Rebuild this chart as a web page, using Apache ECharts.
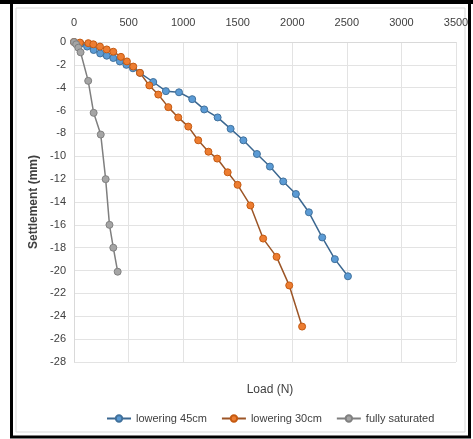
<!DOCTYPE html>
<html>
<head>
<meta charset="utf-8">
<script src="https://cdn.jsdelivr.net/npm/echarts@6/dist/echarts.min.js"></script>
<style>
  html, body { margin: 0; padding: 0; background: #fff; }
  #chart { width: 473px; height: 439px; }
</style>
</head>
<body>
<div id="chart"></div>
<script>
// load (N) / settlement (mm)
const lowering45 = [
  [0, 0], [60, -0.15], [120, -0.4], [180, -0.7], [240, -1.0], [300, -1.2],
  [360, -1.4], [420, -1.7], [480, -2.0], [540, -2.3], [604, -2.7], [726, -3.5],
  [842, -4.3], [962, -4.4], [1083, -5.0], [1193, -5.9], [1316, -6.6], [1435, -7.6],
  [1552, -8.6], [1676, -9.8], [1795, -10.9], [1917, -12.2], [2033, -13.3],
  [2152, -14.9], [2274, -17.1], [2390, -19.0], [2510, -20.5]
]
const lowering30 = [
  [0, 0], [55, -0.05], [131, -0.1], [177, -0.2], [238, -0.4], [300, -0.65],
  [360, -0.85], [430, -1.3], [485, -1.7], [543, -2.15], [604, -2.7], [690, -3.8],
  [772, -4.6], [864, -5.7], [955, -6.6], [1047, -7.4], [1138, -8.6], [1232, -9.6],
  [1312, -10.2], [1408, -11.4], [1499, -12.5], [1616, -14.3], [1733, -17.2],
  [1856, -18.8], [1972, -21.3], [2090, -24.9]
]
const fullySaturated = [
  [0, 0], [20, -0.2], [40, -0.5], [60, -0.9], [130, -3.4], [180, -6.2],
  [245, -8.1], [290, -12.0], [325, -16.0], [360, -18.0], [400, -20.1]
]
const seriesNames = ['lowering 45cm', 'lowering 30cm', 'fully saturated']

const font = "'Liberation Sans Narrow', 'Liberation Sans', Arial, sans-serif"

const chart = echarts.init(document.getElementById('chart'))

function lineSeries(name, data, color, lineColor, border) {
  return {
    name: name,
    type: 'line',
    data: data,
    symbol: 'circle',
    symbolSize: 7,
    lineStyle: { color: lineColor, width: 1.5 },
    itemStyle: { color: color, borderColor: border, borderWidth: 1 },
    emphasis: { disabled: true },
    animation: false
  }
}

chart.setOption({
  backgroundColor: '#fff',
  textStyle: { fontFamily: font },
  title: {
    text: 'Load (N)',
    left: 265,
    top: 379,
    textAlign: 'center',
    textStyle: { fontSize: 12, fontWeight: 'normal', color: '#404040', fontFamily: font }
  },
  graphic: [
    { type: 'rect', shape: { x: 16, y: 8, width: 449, height: 424 }, style: { fill: 'none', stroke: '#d9d9d9', lineWidth: 1 } },
    { type: 'rect', shape: { x: 11.5, y: 2, width: 458, height: 435 }, style: { fill: 'none', stroke: '#000', lineWidth: 3 } },
    { type: 'rect', shape: { x: 0, y: 0, width: 473, height: 4 }, style: { fill: '#000' } }
  ],
  grid: { left: 74, top: 42, width: 382, height: 320, containLabel: false },
  legend: {
    data: seriesNames,
    top: 408,
    left: 101,
    itemWidth: 24,
    itemHeight: 8,
    itemGap: 14,
    textStyle: { fontSize: 11, color: '#404040', fontFamily: font }
  },
  xAxis: {
    type: 'value',
    position: 'top',
    min: 0,
    max: 3500,
    interval: 500,
    axisLine: { show: true, lineStyle: { color: '#d9d9d9' } },
    axisTick: { show: false },
    axisLabel: { fontSize: 11, color: '#404040', margin: 14, formatter: v => String(v) },
    splitLine: { show: true, lineStyle: { color: '#e3e3e3' } }
  },
  yAxis: {
    type: 'value',
    min: -28,
    max: 0,
    interval: 2,
    name: 'Settlement (mm)',
    nameLocation: 'middle',
    nameRotate: 90,
    nameGap: 25,
    nameTextStyle: { fontSize: 12, fontWeight: 'bold', color: '#404040' },
    axisLine: { show: true, lineStyle: { color: '#d9d9d9' } },
    axisTick: { show: false },
    axisLabel: { fontSize: 11, color: '#404040', margin: 8 },
    splitLine: { show: true, lineStyle: { color: '#e3e3e3' } }
  },
  series: [
    lineSeries(seriesNames[0], lowering45, '#5b9bd5', '#3b6790', '#41719c'),
    lineSeries(seriesNames[1], lowering30, '#ed7d31', '#9c5526', '#c55a11'),
    lineSeries(seriesNames[2], fullySaturated, '#a5a5a5', '#7f7f7f', '#808080')
  ]
})
</script>
</body>
</html>
